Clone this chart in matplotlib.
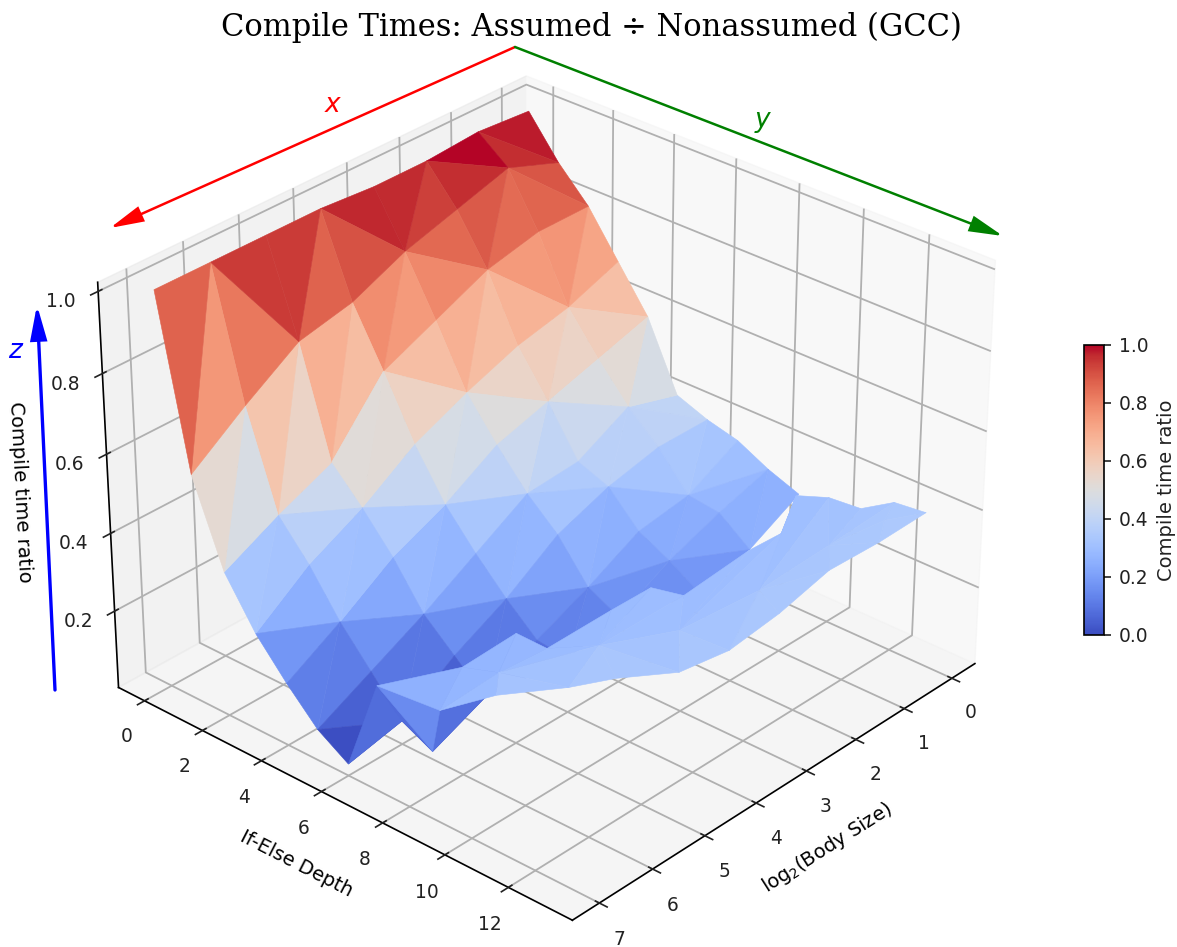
import numpy as np, matplotlib
matplotlib.use('Agg')
import matplotlib.pyplot as plt
from matplotlib.patches import FancyArrowPatch
from matplotlib.cm import ScalarMappable
from matplotlib.colors import Normalize

# --- data: compile-time ratio per body size (x) along if-else depth (y = list index) ---
ratio_by_body = {
    0: [.99, .89, .81, .70, .59, .42, .39, .37, .33, .30],
    1: [1.00, .94, .81, .65, .55, .46, .39, .30, .29, .23],
    2: [.99, .90, .78, .62, .51, .39, .36, .28, .24, .19],
    3: [.99, .86, .72, .57, .47, .38, .31, .21, .17],
    4: [1.00, .80, .66, .51, .39, .30, .22, .15, .14],
    5: [1.00, .77, .50, .42, .33, .22, .15, .08],
    6: [1.00, .68, .44, .35, .24, .15, .06, .02],
    7: [1.00, .58, .37, .25, .16, .08, .03, .27],
}
# the deep-depth sheet in front of the surface
sheet_body = [7, 6.96, 6.03, 5.04, 5.05, 3.89, 3.12, 3.06, 1.63, 1.02, .13, -.04, -.02, -.28, -.27,
              6.02, 4.84, 3.89, 2.54, 1.15, .25,
              6.64, 6.04, 5.49, 4.86, 4.05, 2.95, 1.71, .73]
sheet_depth = [7, 8.95, 8.05, 8.09, 9.09, 9.19, 9.21, 10.15, 9.95, 10.01, 9.11, 9.89, 10.93, 11.58, 12.58,
               9.20, 10.38, 11.34, 11.68, 11.70, 12.06,
               10.18, 11.43, 11.98, 12.89, 13.13, 12.94, 12.56, 12.62]
sheet_ratio = [.27, .28, .28, .29, .29, .30, .30, .31, .31, .31, .31, .32, .33, .35, .36,
               .31, .33, .33, .34, .35, .36,
               .34, .36, .36, .36, .36, .36, .36, .36]
sheet_tris = [(0,1,2),(1,2,15),(2,3,15),(3,4,15),(4,15,16),(4,5,16),(5,6,16),(6,7,16),(7,16,17),(7,8,17),
              (8,9,17),(9,17,18),(9,10,18),(10,11,18),(11,18,19),(11,12,19),(12,13,19),(13,19,20),(13,14,20),
              (1,15,21),(15,21,22),(15,22,16),(16,22,23),(16,23,24),(16,24,17),(17,24,25),(17,25,18),
              (18,25,26),(18,26,27),(18,27,19),(19,27,28),(19,28,20),(20,28,14)]
x_ticks = list(range(8))
y_ticks = [0, 2, 4, 6, 8, 10, 12]
z_ticks = [.2, .4, .6, .8, 1.0]
cb_ticks = [0, .2, .4, .6, .8, 1.0]
title = 'Compile Times: Assumed ÷ Nonassumed (GCC)'

W, H = 1177, 947
plt.rcParams.update({'axes.linewidth': 1.2, 'grid.linewidth': 1.3, 'xtick.major.width': 1.2,
                     'ytick.major.width': 1.2, 'xtick.major.size': 5, 'grid.color': '#b0b0b0'})
fig = plt.figure(figsize=(W/100, H/100), dpi=100)
ax = fig.add_axes([48.1/W, (H-963.4)/H, 974/W, 945/H], projection='3d', computed_zorder=False)
ax.apply_aspect = lambda position=None: None   # keep the slightly non-square frame

# build main mesh
index = {}
xs, ys, zs = [], [], []
for b, vals in ratio_by_body.items():
    for d, v in enumerate(vals):
        index[(b, d)] = len(xs)
        xs.append(b); ys.append(d); zs.append(v)
xs.append(sheet_body[1]); ys.append(sheet_depth[1]); zs.append(sheet_ratio[1])
P = len(xs) - 1
tris = []
for b in range(7):
    n = min(len(ratio_by_body[b]), len(ratio_by_body[b+1]))
    for d in range(n-1):
        a00, a10 = index[(b, d)], index[(b+1, d)]
        a01, a11 = index[(b, d+1)], index[(b+1, d+1)]
        if d == 0 and b < 2:
            vertical = False
        elif d == 1 and (b >= 4 or b == 0):
            vertical = b >= 4
        elif b == 6 and d == 6:
            vertical = True
        else:
            vertical = (b + d) % 2 == 0
        if vertical:
            tris += [(a00, a10, a11), (a00, a01, a11)]
        else:
            tris += [(a00, a10, a01), (a10, a01, a11)]
tris += [(index[(2,8)], index[(3,8)], index[(2,9)]),
         (index[(4,7)], index[(5,7)], index[(4,8)]),
         (index[(7,7)], P, index[(6,7)]),
         (P, index[(6,7)], index[(5,7)])]
kw = dict(cmap='coolwarm', linewidth=.4, antialiased=True)
s1 = ax.plot_trisurf(xs, ys, zs, triangles=tris, zorder=1, vmin=.05, vmax=.98, **kw)
s2 = ax.plot_trisurf(sheet_body, sheet_depth, sheet_ratio, triangles=sheet_tris, zorder=2, vmin=.02, vmax=1.02, **kw)
s1.set_edgecolor('face'); s2.set_edgecolor('face')

ax.view_init(elev=31.03, azim=42.0)
ax.set_proj_type('persp', focal_length=1.007)
ax.set_box_aspect((4, 4, 4*.783))
ax.set_xlim(-.491, 7.499); ax.set_ylim(-.910, 13.98); ax.set_zlim(0, 1.022)
ax.set_xticks(x_ticks); ax.set_yticks(y_ticks); ax.set_zticks(z_ticks)
ax.tick_params(labelsize=13.4, pad=7, colors='#222222')
ax.set_xlabel('log$_2$(Body Size)', fontsize=14, labelpad=14)
ax.set_ylabel('If-Else Depth', fontsize=14, labelpad=14)
ax.set_zlabel('Compile time ratio', fontsize=14, labelpad=15)

# colour bar
cax = fig.add_axes([1084/W, (H-635)/H, 20/W, 290/H])
cb = fig.colorbar(ScalarMappable(Normalize(0, 1), 'coolwarm'), cax=cax, ticks=cb_ticks)
cb.ax.tick_params(labelsize=13.4, width=1.2, length=5, pad=5.5, colors='#222222')
cb.outline.set_linewidth(1.2)
cb.set_label('Compile time ratio', fontsize=14, labelpad=6.5, color='#222222')

fig.text(591/W, 1-27/H, title, family='DejaVu Serif', fontsize=22, ha='center', va='center')

def arrow(x0, y0, x1, y1, color, lw):
    fig.add_artist(FancyArrowPatch((x0/W, 1-y0/H), (x1/W, 1-y1/H), transform=fig.transFigure,
                                   arrowstyle='-|>,head_length=0.63,head_width=0.15', mutation_scale=32,
                                   color=color, lw=lw, shrinkA=0, shrinkB=0, zorder=5, joinstyle='miter'))
arrow(515, 47, 110, 228, 'red', 1.8)
arrow(515, 47, 1003, 236, 'green', 1.8)
arrow(55, 690, 37, 305, 'blue', 2.4)
for s, px, py, c in [('x', 333, 105, 'red'), ('y', 762, 120, 'green'), ('z', 15, 351, 'blue')]:
    fig.text(px/W, 1-py/H, s, color=c, fontsize=19, style='italic', ha='center', va='center')
fig.savefig('out.png', dpi=100)
